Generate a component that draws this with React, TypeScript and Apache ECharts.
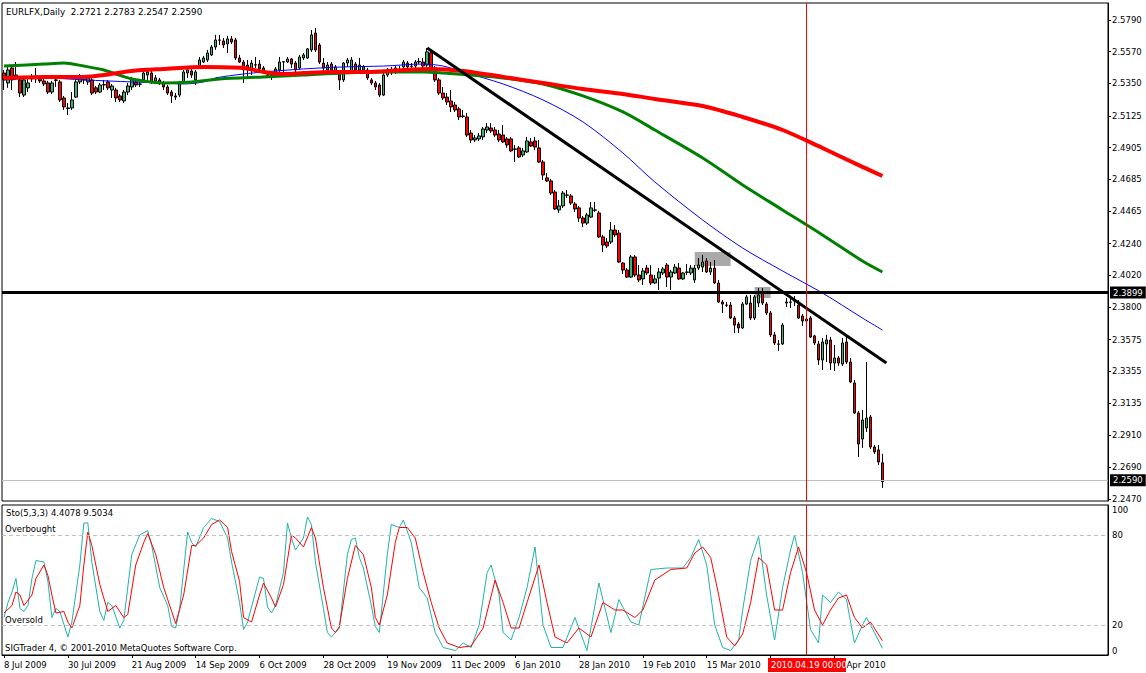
import React, { useEffect, useRef } from 'react';
import * as echarts from 'echarts';

const FONT = 'DejaVu Sans';

const opens = [
2.5422,2.5353,2.5457,2.5408,2.5374,2.5269,2.5319,2.5388,2.5381,2.5388,
2.5367,2.5353,2.5290,2.5374,2.5360,2.5249,2.5180,2.5180,2.5255,2.5360,
2.5374,2.5360,2.5374,2.5319,2.5290,2.5339,2.5360,2.5304,2.5304,2.5263,
2.5228,2.5290,2.5325,2.5360,2.5346,2.5374,2.5408,2.5422,2.5367,2.5374,
2.5353,2.5325,2.5290,2.5263,2.5269,2.5360,2.5422,2.5436,2.5374,2.5464,
2.5498,2.5512,2.5547,2.5602,2.5651,2.5644,2.5623,2.5658,2.5651,2.5526,
2.5498,2.5477,2.5443,2.5477,2.5484,2.5457,2.5408,2.5408,2.5422,2.5443,
2.5498,2.5498,2.5519,2.5491,2.5457,2.5526,2.5526,2.5582,2.5699,2.5616,
2.5491,2.5443,2.5484,2.5429,2.5429,2.5374,2.5491,2.5436,2.5484,2.5443,
2.5443,2.5443,2.5374,2.5353,2.5339,2.5269,2.5408,2.5443,2.5429,2.5443,
2.5464,2.5491,2.5470,2.5470,2.5498,2.5498,2.5477,2.5561,2.5457,2.5374,
2.5283,2.5255,2.5228,2.5200,2.5173,2.5124,2.5117,2.5006,2.4958,2.4965,
2.4979,2.5027,2.5041,2.5027,2.4999,2.4992,2.4965,2.4965,2.4896,2.4903,
2.4854,2.4875,2.4944,2.4951,2.4903,2.4805,2.4695,2.4674,2.4597,2.4473,
2.4501,2.4577,2.4570,2.4514,2.4487,2.4417,2.4382,2.4424,2.4473,2.4452,
2.4286,2.4251,2.4251,2.4334,2.4313,2.4105,2.4057,2.4008,2.4147,2.4022,
2.3995,2.4070,2.4022,2.3967,2.4001,2.4036,2.4091,2.4008,2.4036,2.4070,
2.3995,2.4043,2.4036,2.3988,2.4070,2.4077,2.4119,2.4043,2.4070,2.3967,
2.3835,2.3814,2.3814,2.3724,2.3682,2.3655,2.3821,2.3828,2.3724,2.3828,
2.3898,2.3821,2.3759,2.3607,2.3544,2.3544,2.3828,2.3835,2.3849,2.3814,
2.3738,2.3717,2.3724,2.3600,2.3544,2.3433,2.3544,2.3572,2.3412,2.3447,
2.3405,2.3558,2.3419,2.3274,2.3066,2.2886,2.2962,2.3038,2.2830,2.2810,
2.2721
];

const closes = [
2.5374,2.5443,2.5374,2.5388,2.5283,2.5374,2.5353,2.5381,2.5388,2.5367,
2.5346,2.5290,2.5353,2.5371,2.5235,2.5187,2.5176,2.5235,2.5360,2.5395,
2.5376,2.5388,2.5283,2.5290,2.5339,2.5341,2.5319,2.5332,2.5249,2.5235,
2.5290,2.5332,2.5374,2.5339,2.5344,2.5422,2.5429,2.5360,2.5388,2.5353,
2.5325,2.5283,2.5263,2.5255,2.5353,2.5429,2.5443,2.5408,2.5429,2.5512,
2.5526,2.5561,2.5602,2.5651,2.5649,2.5616,2.5658,2.5637,2.5526,2.5498,
2.5443,2.5457,2.5491,2.5479,2.5450,2.5429,2.5406,2.5405,2.5450,2.5498,
2.5500,2.5519,2.5484,2.5443,2.5533,2.5547,2.5589,2.5686,2.5582,2.5498,
2.5457,2.5477,2.5429,2.5464,2.5374,2.5491,2.5512,2.5512,2.5443,2.5477,
2.5464,2.5388,2.5353,2.5325,2.5269,2.5408,2.5443,2.5422,2.5457,2.5441,
2.5498,2.5464,2.5468,2.5498,2.5502,2.5470,2.5568,2.5443,2.5374,2.5283,
2.5249,2.5221,2.5187,2.5166,2.5117,2.5121,2.4992,2.4958,2.4972,2.4986,
2.5034,2.5048,2.5020,2.4992,2.4958,2.4944,2.4923,2.4882,2.4893,2.4840,
2.4882,2.4951,2.4916,2.4909,2.4805,2.4715,2.4674,2.4590,2.4480,2.4501,
2.4590,2.4575,2.4521,2.4480,2.4417,2.4382,2.4438,2.4487,2.4471,2.4286,
2.4230,2.4223,2.4334,2.4300,2.4112,2.4057,2.4008,2.4147,2.4022,2.3988,
2.4050,2.4036,2.3967,2.3995,2.4043,2.4064,2.4008,2.4043,2.4077,2.3995,
2.4036,2.4041,2.4070,2.4070,2.4091,2.4112,2.4043,2.4070,2.3967,2.3835,
2.3821,2.3812,2.3724,2.3675,2.3655,2.3821,2.3870,2.3724,2.3870,2.3884,
2.3828,2.3759,2.3607,2.3551,2.3542,2.3675,2.3835,2.3833,2.3842,2.3724,
2.3703,2.3703,2.3593,2.3551,2.3433,2.3558,2.3572,2.3412,2.3447,2.3412,
2.3551,2.3419,2.3281,2.3066,2.2851,2.3017,2.3031,2.2830,2.2796,2.2727,
2.2590
];

const lows = [
2.5304,2.5319,2.5304,2.5374,2.5255,2.5255,2.5290,2.5360,2.5353,2.5353,
2.5332,2.5276,2.5276,2.5325,2.5221,2.5166,2.5131,2.5166,2.5249,2.5346,
2.5346,2.5339,2.5269,2.5276,2.5283,2.5304,2.5304,2.5249,2.5221,2.5221,
2.5214,2.5269,2.5304,2.5325,2.5325,2.5360,2.5374,2.5346,2.5353,2.5339,
2.5304,2.5269,2.5214,2.5235,2.5255,2.5346,2.5388,2.5388,2.5339,2.5450,
2.5491,2.5498,2.5540,2.5582,2.5616,2.5595,2.5561,2.5623,2.5512,2.5491,
2.5353,2.5388,2.5408,2.5457,2.5422,2.5415,2.5388,2.5374,2.5408,2.5429,
2.5429,2.5491,2.5457,2.5429,2.5443,2.5512,2.5519,2.5568,2.5568,2.5484,
2.5408,2.5422,2.5415,2.5408,2.5304,2.5360,2.5464,2.5429,2.5429,2.5429,
2.5429,2.5374,2.5339,2.5304,2.5255,2.5263,2.5395,2.5408,2.5415,2.5422,
2.5457,2.5457,2.5443,2.5457,2.5484,2.5422,2.5464,2.5422,2.5360,2.5269,
2.5235,2.5200,2.5152,2.5152,2.5096,2.5110,2.4979,2.4937,2.4944,2.4951,
2.4958,2.5006,2.5006,2.4979,2.4944,2.4937,2.4903,2.4875,2.4805,2.4833,
2.4840,2.4868,2.4909,2.4889,2.4798,2.4681,2.4667,2.4577,2.4473,2.4452,
2.4487,2.4556,2.4508,2.4459,2.4389,2.4354,2.4368,2.4417,2.4459,2.4279,
2.4182,2.4209,2.4237,2.4286,2.4105,2.4029,2.4001,2.4001,2.4008,2.3974,
2.3953,2.4022,2.3953,2.3960,2.3918,2.4022,2.3939,2.3918,2.4029,2.3988,
2.3988,2.4022,2.4022,2.3967,2.4057,2.4043,2.4036,2.4022,2.3960,2.3828,
2.3759,2.3800,2.3717,2.3620,2.3620,2.3648,2.3814,2.3710,2.3710,2.3800,
2.3814,2.3745,2.3593,2.3537,2.3496,2.3537,2.3800,2.3793,2.3807,2.3717,
2.3669,2.3689,2.3586,2.3537,2.3399,2.3364,2.3419,2.3364,2.3357,2.3392,
2.3392,2.3405,2.3274,2.3059,2.2761,2.2824,2.2934,2.2817,2.2782,2.2706,
2.2547
];

const highs = [
2.5443,2.5477,2.5470,2.5498,2.5388,2.5388,2.5395,2.5415,2.5457,2.5401,
2.5381,2.5367,2.5367,2.5408,2.5374,2.5263,2.5214,2.5290,2.5374,2.5415,
2.5401,2.5408,2.5388,2.5332,2.5353,2.5374,2.5374,2.5346,2.5319,2.5276,
2.5304,2.5353,2.5395,2.5381,2.5367,2.5436,2.5457,2.5436,2.5408,2.5388,
2.5367,2.5339,2.5304,2.5283,2.5367,2.5443,2.5457,2.5450,2.5443,2.5533,
2.5540,2.5582,2.5616,2.5686,2.5686,2.5665,2.5679,2.5679,2.5665,2.5547,
2.5512,2.5512,2.5512,2.5533,2.5512,2.5470,2.5429,2.5429,2.5464,2.5533,
2.5505,2.5533,2.5526,2.5505,2.5547,2.5561,2.5595,2.5720,2.5734,2.5630,
2.5526,2.5498,2.5498,2.5477,2.5443,2.5498,2.5526,2.5533,2.5498,2.5526,
2.5477,2.5457,2.5388,2.5367,2.5353,2.5422,2.5457,2.5464,2.5470,2.5470,
2.5512,2.5505,2.5491,2.5512,2.5526,2.5526,2.5595,2.5582,2.5470,2.5388,
2.5325,2.5283,2.5304,2.5221,2.5187,2.5166,2.5145,2.5027,2.4992,2.5006,
2.5048,2.5075,2.5075,2.5048,2.5027,2.5061,2.4979,2.4979,2.4923,2.4916,
2.4903,2.4979,2.4972,2.4979,2.4958,2.4819,2.4729,2.4688,2.4611,2.4542,
2.4604,2.4611,2.4583,2.4528,2.4501,2.4431,2.4452,2.4528,2.4528,2.4466,
2.4300,2.4279,2.4389,2.4368,2.4334,2.4112,2.4070,2.4161,2.4161,2.4091,
2.4070,2.4091,2.4091,2.4022,2.4070,2.4077,2.4105,2.4057,2.4098,2.4105,
2.4043,2.4098,2.4091,2.4091,2.4140,2.4161,2.4140,2.4112,2.4126,2.3988,
2.3849,2.3835,2.3835,2.3738,2.3696,2.3835,2.3884,2.3884,2.3884,2.3932,
2.3932,2.3835,2.3773,2.3627,2.3572,2.3689,2.3863,2.3863,2.3877,2.3849,
2.3752,2.3738,2.3738,2.3607,2.3565,2.3586,2.3607,2.3593,2.3537,2.3461,
2.3586,2.3593,2.3447,2.3295,2.3080,2.3087,2.3419,2.3052,2.2844,2.2844,
2.2783
];

// moving averages: [bar index, price]
const maBlue = [[0,2.5374],[10,2.5388],[20,2.5374],[32,2.5360],[40,2.5353],[45,2.5346],[50,2.5360],[53,2.5388],[60,2.5415],[65,2.5429],[75,2.5450],[85,2.5464],[95,2.5470],[105,2.5484],[110,2.5470],[115,2.5429],[125,2.5346],[135,2.5235],[145,2.5083],[155,2.4868],[163,2.4667],[175,2.4403],[185,2.4209],[195,2.4050],[205,2.3897],[215,2.3724],[220,2.3641]];
const maGreen = [[0,2.5470],[10,2.5484],[15,2.5491],[20,2.5470],[25,2.5443],[28,2.5415],[32,2.5381],[40,2.5353],[47,2.5360],[54,2.5381],[65,2.5395],[75,2.5408],[85,2.5422],[95,2.5429],[105,2.5429],[110,2.5422],[117,2.5408],[125,2.5388],[135,2.5346],[145,2.5263],[155,2.5152],[163,2.5027],[175,2.4833],[185,2.4646],[195,2.4473],[205,2.4300],[215,2.4119],[220,2.4043]];
const maRed = [[0,2.5388],[10,2.5395],[20,2.5395],[25,2.5408],[32,2.5436],[40,2.5450],[50,2.5464],[60,2.5457],[65,2.5429],[70,2.5415],[75,2.5422],[82,2.5429],[92,2.5429],[100,2.5443],[107,2.5450],[115,2.5436],[125,2.5395],[135,2.5353],[145,2.5311],[155,2.5277],[163,2.5242],[175,2.5193],[185,2.5117],[195,2.5027],[205,2.4902],[215,2.4771],[220,2.4708]];

// stochastic (5,3,3): [bar index, value]
const stochMain = [[0,25],[1,35],[2,42],[3,51],[4,31],[5,29],[6,33],[7,51],[8,63],[10,62],[11,49],[12,25],[13,31],[14,29],[16,12],[17,22],[19,60],[20,88],[21,88],[22,62],[24,29],[25,23],[26,35],[27,33],[29,18],[30,23],[32,67],[34,80],[36,83],[37,73],[39,45],[41,33],[42,19],[43,18],[44,31],[46,82],[47,75],[48,72],[50,85],[52,91],[54,89],[56,78],[57,62],[59,35],[60,17],[61,22],[64,52],[65,51],[66,32],[67,28],[68,33],[70,55],[71,88],[72,78],[73,70],[75,78],[76,92],[77,87],[78,62],[80,31],[81,15],[82,12],[83,15],[84,18],[86,67],[87,77],[88,78],[89,65],[90,58],[92,33],[93,19],[94,15],[96,67],[97,87],[99,85],[100,90],[102,75],[104,45],[106,38],[108,15],[110,5],[113,3],[115,8],[117,5],[119,20],[121,55],[122,60],[124,40],[125,15],[127,10],[129,25],[131,45],[133,72],[135,20],[137,5],[140,5],[143,25],[146,3],[149,48],[152,15],[154,37],[157,22],[159,20],[162,57],[166,58],[170,58],[172,65],[174,77],[176,60],[178,20],[180,5],[182,3],[184,10],[185,30],[187,63],[189,79],[191,40],[193,10],[195,45],[197,70],[198,80],[200,55],[202,17],[204,8],[205,40],[207,35],[209,42],[211,37],[213,8],[215,20],[216,25],[218,15],[220,4.4078]];
const stochSignal = [[0,28],[2,33],[3,42],[4,40],[5,33],[7,40],[8,51],[10,60],[11,53],[12,40],[13,28],[15,29],[16,22],[17,18],[19,33],[20,60],[21,82],[22,73],[24,47],[26,29],[28,33],[30,25],[31,27],[33,60],[35,75],[36,81],[38,67],[40,45],[42,29],[43,21],[45,40],[47,73],[48,73],[50,78],[52,87],[54,90],[56,85],[57,69],[59,49],[60,25],[62,22],[64,40],[65,48],[67,38],[68,32],[70,47],[72,80],[73,78],[75,72],[77,85],[78,78],[80,45],[82,18],[83,15],[84,19],[86,51],[88,73],[90,67],[92,45],[93,25],[94,20],[96,40],[98,75],[99,85],[101,85],[103,78],[105,55],[107,35],[109,18],[111,8],[114,5],[117,6],[120,18],[123,50],[125,35],[127,18],[129,18],[131,35],[134,60],[136,35],[138,12],[141,8],[144,18],[147,12],[150,35],[153,30],[155,30],[158,25],[160,30],[163,50],[167,57],[171,58],[173,68],[175,72],[177,65],[179,40],[181,12],[183,6],[185,14],[187,35],[189,65],[191,60],[193,30],[195,30],[197,55],[199,72],[201,55],[203,30],[205,20],[207,30],[209,38],[211,40],[213,25],[215,18],[217,22],[220,9.5034]];

const priceTicks = [2.5790,2.5570,2.5350,2.5125,2.4905,2.4685,2.4465,2.4240,2.4020,2.3800,2.3575,2.3355,2.3135,2.2910,2.2690,2.2470];
const stochTicks = [0, 20, 80, 100];
const dateLabels = ['8 Jul 2009','30 Jul 2009','21 Aug 2009','14 Sep 2009','6 Oct 2009','28 Oct 2009','19 Nov 2009','11 Dec 2009','6 Jan 2010','28 Jan 2010','19 Feb 2010','15 Mar 2010','','Apr 2010'];
const dateLabelBars = [0,16,32,48,64,80,96,112,128,144,160,176,192,208];

const trendLine = [[106, 2.5595], [221, 2.3412]];
const supportLevel = 2.3899;
const bidPrice = 2.2590;
const boxes = [[173, 2.4182, 182, 2.4085], [188, 2.3939, 192, 2.3863]];
const crossBar = 201;
const crossLabel = '2010.04.19 00:00';
const headerText = 'EURLFX,Daily  2.2721 2.2783 2.2547 2.2590';
const stochText = 'Sto(5,3,3) 4.4078 9.5034';
const copyrightText = 'SIGTrader 4, \u00a9 2001-2010 MetaQuotes Software Corp.';
const SLOTS = 277;

export default function App() {
  const ref = useRef<HTMLDivElement>(null);
  useEffect(() => {
    if (!ref.current) return;
    const chart = echarts.init(ref.current, null, { renderer: 'svg' });
    const cats = Array.from({ length: SLOTS }, (_, i) => String(i));
    const candles = opens.map((o, i) => [o, closes[i], lows[i], highs[i]]);
    const labelMap = new Map<number, string>(dateLabelBars.map((b, j) => [b, dateLabels[j]]));
    const lastBar = dateLabelBars[dateLabelBars.length - 1];
    const showIdx = (idx: number) => labelMap.has(idx);
    const txt = { fontFamily: FONT, fontSize: 8.5, color: '#000' };

    chart.setOption({
      animation: false,
      backgroundColor: '#fff',
      grid: [
        { left: 2, top: 3, width: 1106, height: 498, show: true, borderColor: '#000', borderWidth: 1, backgroundColor: 'transparent' },
        { left: 2, top: 505, width: 1106, height: 150, show: true, borderColor: '#000', borderWidth: 1, backgroundColor: 'transparent' },
      ],
      xAxis: [
        { type: 'category', gridIndex: 0, data: cats, boundaryGap: true, axisLine: { show: false }, axisTick: { show: false }, axisLabel: { show: false }, splitLine: { show: false } },
        {
          type: 'category', gridIndex: 1, data: cats, boundaryGap: true,
          axisLine: { show: true, lineStyle: { color: '#000', width: 1 } },
          axisTick: { show: true, interval: showIdx, alignWithLabel: true, length: 3, lineStyle: { color: '#000' } },
          axisLabel: {
            ...txt, interval: showIdx, align: 'left', margin: 5,
            formatter: (v: string) => {
              const n = Number(v);
              const s = labelMap.get(n) ?? '';
              if (!s) return '';
              return n === lastBar ? `{shift|${s}}` : s;
            },
            rich: { shift: { fontFamily: FONT, fontSize: 8.5, color: '#000', padding: [0, 0, 0, 12] } },
          },
          splitLine: { show: false },
        },
      ],
      yAxis: [
        {
          type: 'value', gridIndex: 0, position: 'right', min: 2.2456, max: 2.5907,
          axisLine: { show: true, lineStyle: { color: '#000' } },
          axisTick: { show: true, customValues: priceTicks, length: 3, lineStyle: { color: '#000' } },
          axisLabel: { ...txt, customValues: priceTicks, margin: 4, padding: [0, 0, 4, 0], formatter: (v: number) => v.toFixed(4) },
          splitLine: { show: false },
        },
        {
          type: 'value', gridIndex: 1, position: 'right', min: 0, max: 100,
          axisLine: { show: true, lineStyle: { color: '#000' } },
          axisTick: { show: false, customValues: stochTicks },
          axisLabel: { ...txt, customValues: stochTicks, margin: 4, verticalAlignMaxLabel: 'top', verticalAlignMinLabel: 'bottom', formatter: (v: number) => String(v) },
          splitLine: { show: false },
        },
      ],
      series: [
        {
          type: 'candlestick', xAxisIndex: 0, yAxisIndex: 0, data: candles, barWidth: 3, z: 2,
          itemStyle: { color: '#3CB371', color0: '#FF0000', borderColor: '#000', borderColor0: '#000', borderWidth: 1 },
          markArea: {
            silent: true,
            itemStyle: { color: '#A9A9A9' },
            data: boxes.map(b => [{ coord: [b[0], b[1]] }, { coord: [b[2], b[3]] }]),
          },
          markLine: {
            silent: true, symbol: ['none', 'none'], animation: false,
            data: [
              {
                yAxis: supportLevel, lineStyle: { color: '#000', width: 3, type: 'solid' },
                label: { show: true, position: 'end', distance: 2, formatter: () => supportLevel.toFixed(4), backgroundColor: '#000', color: '#fff', fontFamily: FONT, fontSize: 8.5, padding: [2, 3, 1, 3] },
              },
              {
                yAxis: bidPrice, lineStyle: { color: '#C0C0C0', width: 1, type: 'solid' },
                label: { show: true, position: 'end', distance: 2, formatter: () => bidPrice.toFixed(4), backgroundColor: '#000', color: '#fff', fontFamily: FONT, fontSize: 8.5, padding: [2, 3, 1, 3] },
              },
              { xAxis: crossBar, lineStyle: { color: '#FF0000', width: 1, type: 'solid' }, label: { show: false } },
            ],
          },
        },
        { type: 'line', name: 'ma-blue', xAxisIndex: 0, yAxisIndex: 0, data: maBlue, smooth: 0.3, showSymbol: false, symbol: 'none', z: 3, lineStyle: { color: '#0000FF', width: 1 } },
        { type: 'line', name: 'ma-green', xAxisIndex: 0, yAxisIndex: 0, data: maGreen, smooth: 0.3, showSymbol: false, symbol: 'none', z: 3, lineStyle: { color: '#008000', width: 3 } },
        { type: 'line', name: 'ma-red', xAxisIndex: 0, yAxisIndex: 0, data: maRed, smooth: 0.3, showSymbol: false, symbol: 'none', z: 3, lineStyle: { color: '#FF0000', width: 4 } },
        { type: 'line', name: 'trend', xAxisIndex: 0, yAxisIndex: 0, data: trendLine, showSymbol: false, symbol: 'none', z: 4, lineStyle: { color: '#000', width: 3 } },
        {
          type: 'line', name: 'sto-main', xAxisIndex: 1, yAxisIndex: 1, data: stochMain, showSymbol: false, symbol: 'none', z: 3,
          lineStyle: { color: '#20B2AA', width: 1 },
          markLine: {
            silent: true, symbol: ['none', 'none'], label: { show: false },
            data: [
              { yAxis: 80, lineStyle: { color: '#C0C0C0', width: 1, type: [4, 3] } },
              { yAxis: 20, lineStyle: { color: '#C0C0C0', width: 1, type: [4, 3] } },
              { xAxis: crossBar, lineStyle: { color: '#FF0000', width: 1, type: 'solid' } },
            ],
          },
        },
        { type: 'line', name: 'sto-signal', xAxisIndex: 1, yAxisIndex: 1, data: stochSignal, showSymbol: false, symbol: 'none', z: 3, lineStyle: { color: '#FF0000', width: 1 } },
      ],
      graphic: [
        { type: 'text', left: 6, top: 7, z: 100, style: { text: headerText, fill: '#000', font: `8.8px "${FONT}"` } },
        { type: 'text', left: 6, top: 508, z: 100, style: { text: stochText, fill: '#000', font: `8.5px "${FONT}"` } },
        { type: 'text', left: 5, top: 524, z: 100, style: { text: 'Overbought', fill: '#000', font: `8.5px "${FONT}"` } },
        { type: 'text', left: 5, top: 615, z: 100, style: { text: 'Oversold', fill: '#000', font: `8.5px "${FONT}"` } },
        { type: 'text', left: 5, top: 643, z: 100, style: { text: copyrightText, fill: '#000', font: `8.5px "${FONT}"` } },
        { type: 'rect', left: 768, top: 658, z: 100, shape: { width: 78, height: 14 }, style: { fill: '#FF0000' } },
        { type: 'text', left: 771, top: 660, z: 101, style: { text: crossLabel, fill: '#fff', font: `8.5px "${FONT}"` } },
      ],
    });
    return () => chart.dispose();
  }, []);
  return <div ref={ref} style={{ position: 'fixed', left: 0, top: 0, width: 1146, height: 673, background: '#fff' }} />;
}
